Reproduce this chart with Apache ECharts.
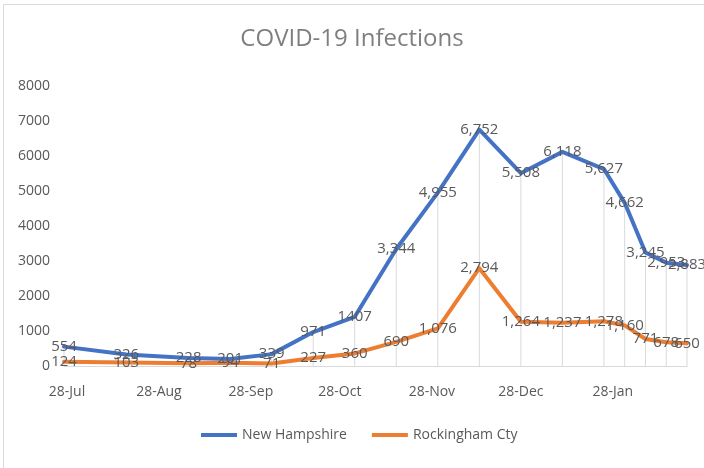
<!DOCTYPE html>
<html>
<head>
<meta charset="utf-8">
<script src="https://cdn.jsdelivr.net/npm/echarts@6/dist/echarts.min.js"></script>
<style>
  html, body { margin: 0; padding: 0; background: #fff; }
  #chart { width: 704px; height: 468px; }
</style>
</head>
<body>
<div id="chart"></div>
<script>
// weekly / bi-weekly report dates
const dates = [
  '2020-07-27', '2020-08-17', '2020-09-07', '2020-09-21', '2020-10-05',
  '2020-10-19', '2020-11-02', '2020-11-16', '2020-11-30', '2020-12-14',
  '2020-12-28', '2021-01-11', '2021-01-25', '2021-02-01', '2021-02-08',
  '2021-02-15', '2021-02-22'
]
const newHampshire = [554, 326, 228, 201, 339, 971, 1407, 3344, 4955, 6752, 5508, 6118, 5627, 4662, 3245, 2953, 2883]
const rockingham = [124, 103, 78, 94, 71, 227, 360, 690, 1076, 2794, 1264, 1237, 1278, 1160, 771, 678, 650]
// the source shows this one label without a thousands separator
const plainLabelIdx = [6]

const xTicks = ['2020-07-28', '2020-08-28', '2020-09-28', '2020-10-28', '2020-11-28', '2020-12-28', '2021-01-28']
const months = ['Jan', 'Feb', 'Mar', 'Apr', 'May', 'Jun', 'Jul', 'Aug', 'Sep', 'Oct', 'Nov', 'Dec']

const FONT = '"Open Sans", sans-serif'
const TEXT = '#595959'

const ts = d => Date.UTC(+d.slice(0, 4), +d.slice(5, 7) - 1, +d.slice(8, 10))
const pairs = arr => dates.map((d, i) => [ts(d), arr[i]])

const fmt = (v, idx) => (plainLabelIdx.includes(idx) ? String(v) : v.toLocaleString('en-US'))

const chart = echarts.init(document.getElementById('chart'))

const option = {
  animation: false,
  textStyle: { fontFamily: FONT },
  graphic: [{
    type: 'rect',
    shape: { x: 3.5, y: 4.5, width: 1000, height: 1000 },
    style: { fill: 'none', stroke: '#D9D9D9', lineWidth: 1 },
    silent: true
  }],
  title: {
    text: 'COVID-19 Infections',
    left: 'center',
    top: 27,
    padding: 0,
    textStyle: { fontFamily: FONT, fontSize: 24, fontWeight: 'normal', color: '#7F7F7F' }
  },
  legend: {
    left: 201,
    top: 428,
    padding: 0,
    icon: 'rect',
    itemWidth: 36,
    itemHeight: 4,
    itemGap: 25,
    data: ['New Hampshire', 'Rockingham Cty'],
    textStyle: { fontFamily: FONT, fontSize: 14, color: TEXT }
  },
  grid: {
    left: 64,
    right: 17,
    top: 86,
    bottom: 102
  },
  xAxis: {
    type: 'value',
    min: ts(dates[0]),
    max: ts(dates[dates.length - 1]),
    axisLine: { lineStyle: { color: '#D9D9D9', width: 1 } },
    axisTick: { show: false },
    splitLine: { show: false },
    axisLabel: {
      customValues: xTicks.map(ts),
      formatter: v => {
        const d = new Date(v)
        return d.getUTCDate() + '-' + months[d.getUTCMonth()]
      },
      fontFamily: FONT,
      fontSize: 14,
      color: TEXT,
      margin: 19
    }
  },
  yAxis: {
    type: 'value',
    min: 0,
    max: 8000,
    interval: 1000,
    axisLine: { show: false },
    axisTick: { show: false },
    splitLine: { show: false },
    axisLabel: { fontFamily: FONT, fontSize: 14, color: TEXT, margin: 14, formatter: v => String(v) }
  },
  series: [
    {
      // drop lines from the top point down to the axis
      name: 'drop',
      type: 'bar',
      barWidth: 1,
      silent: true,
      z: 1,
      itemStyle: { color: '#D9D9D9' },
      data: pairs(newHampshire)
    },
    {
      name: 'New Hampshire',
      type: 'line',
      z: 3,
      symbol: 'circle',
      symbolSize: 1,
      showSymbol: true,
      color: '#4472C4',
      lineStyle: { width: 4, color: '#4472C4', cap: 'round', join: 'round' },
      label: {
        show: true,
        position: 'inside',
        fontFamily: FONT,
        fontSize: 15,
        color: TEXT,
        formatter: p => fmt(p.value[1], p.dataIndex)
      },
      data: pairs(newHampshire)
    },
    {
      name: 'Rockingham Cty',
      type: 'line',
      z: 2,
      symbol: 'circle',
      symbolSize: 1,
      showSymbol: true,
      color: '#ED7D31',
      lineStyle: { width: 4, color: '#ED7D31', cap: 'round', join: 'round' },
      label: {
        show: true,
        position: 'inside',
        fontFamily: FONT,
        fontSize: 15,
        color: TEXT,
        formatter: p => p.value[1].toLocaleString('en-US')
      },
      data: pairs(rockingham)
    }
  ]
}

chart.setOption(option)
</script>
</body>
</html>
